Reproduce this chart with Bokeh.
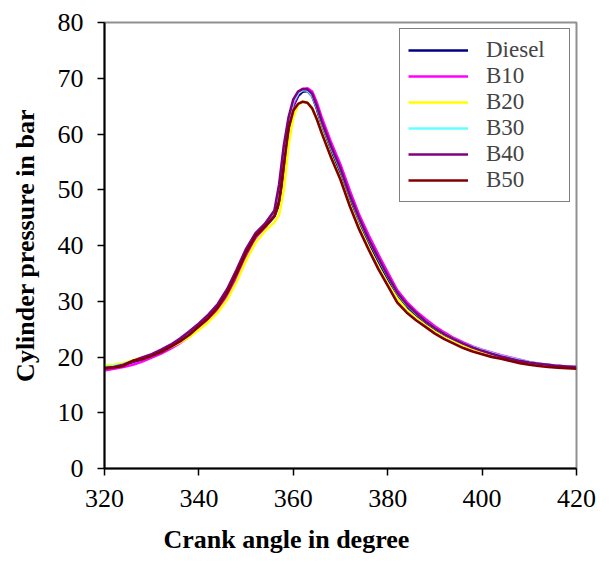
from bokeh.plotting import figure
from bokeh.models import Legend, LegendItem, FixedTicker, Title, Range1d
from bokeh.embed import file_html
from bokeh.resources import INLINE

crank_angle = [320, 322, 324, 326, 328, 330, 332, 334, 336, 338, 340, 342, 344, 346, 348,
               350, 352, 354, 356, 357, 358, 359, 360, 361, 362, 363, 364, 365, 366,
               368, 370, 372, 374, 376, 378, 380, 382, 384, 386, 388, 390, 392, 394, 396,
               398, 400, 402, 404, 406, 408, 410, 412, 414, 416, 418, 420]

diesel = [18.0, 18.2, 18.5, 19.1, 19.6, 20.2, 20.9, 21.8, 22.8, 24.0, 25.4, 26.9, 28.7, 31.2, 34.6,
          38.4, 41.5, 43.3, 45.2, 47.5, 53.5, 61.0, 65.0, 66.8, 67.6, 67.7, 66.8, 64.5, 61.5,
          57.0, 53.0, 48.3, 44.0, 40.5, 37.2, 34.0, 31.0, 29.0, 27.4, 26.0, 24.8, 23.7, 22.8, 22.0,
          21.4, 20.9, 20.4, 20.0, 19.6, 19.2, 18.9, 18.7, 18.5, 18.3, 18.2, 18.1]

b10 = [17.6, 17.9, 18.2, 18.6, 19.2, 19.9, 20.6, 21.5, 22.5, 23.7, 25.1, 26.7, 28.6, 31.0, 34.4,
       38.2, 41.4, 43.3, 45.3, 48.0, 54.5, 61.5, 65.3, 67.2, 68.0, 68.2, 67.6, 65.6, 63.0,
       58.5, 54.5, 49.8, 45.4, 41.8, 38.4, 35.2, 32.0, 29.9, 28.2, 26.8, 25.5, 24.4, 23.4, 22.6,
       21.9, 21.3, 20.8, 20.3, 19.9, 19.5, 19.1, 18.8, 18.6, 18.4, 18.3, 18.2]

b20 = [18.5, 18.6, 18.9, 19.4, 19.9, 20.4, 21.0, 21.8, 22.6, 23.6, 24.9, 26.3, 28.0, 30.3, 33.5,
       37.3, 40.5, 42.6, 44.2, 45.5, 50.0, 58.0, 63.0, 65.2, 65.8, 65.6, 64.6, 62.8, 60.5,
       56.0, 52.0, 47.3, 43.2, 39.6, 36.2, 33.2, 30.5, 28.5, 27.0, 25.7, 24.5, 23.5, 22.7, 22.0,
       21.4, 20.9, 20.5, 20.1, 19.7, 19.3, 19.0, 18.7, 18.5, 18.3, 18.2, 18.1]

b30 = [18.2, 18.4, 18.7, 19.3, 19.8, 20.4, 21.1, 22.0, 23.0, 24.3, 25.7, 27.3, 29.2, 31.8, 35.3,
       39.1, 42.0, 43.8, 46.0, 50.0, 57.0, 62.5, 65.8, 67.3, 67.9, 67.8, 66.9, 64.8, 62.0,
       57.6, 53.6, 48.9, 44.6, 41.0, 37.7, 34.5, 31.5, 29.4, 27.8, 26.4, 25.2, 24.1, 23.2, 22.4,
       21.8, 21.2, 20.7, 20.2, 19.8, 19.4, 19.1, 18.8, 18.6, 18.4, 18.3, 18.2]

b40 = [18.0, 18.2, 18.6, 19.3, 19.9, 20.5, 21.3, 22.2, 23.3, 24.6, 26.0, 27.6, 29.5, 32.2, 35.7,
       39.4, 42.2, 43.9, 46.3, 51.0, 58.0, 63.0, 66.2, 67.6, 68.1, 68.0, 67.2, 65.0, 62.3,
       57.8, 53.8, 49.0, 44.8, 41.1, 37.8, 34.6, 31.6, 29.5, 27.9, 26.4, 25.2, 24.1, 23.2, 22.4,
       21.7, 21.1, 20.6, 20.1, 19.7, 19.3, 19.0, 18.8, 18.6, 18.4, 18.3, 18.2]

b50 = [18.0, 18.1, 18.4, 19.3, 19.6, 20.2, 20.9, 21.8, 22.8, 24.0, 25.5, 27.0, 28.9, 31.5, 35.0,
       38.7, 41.7, 43.4, 45.3, 48.0, 54.5, 61.0, 64.2, 65.4, 65.8, 65.6, 64.6, 62.6, 60.2,
       55.8, 51.8, 47.0, 42.8, 39.2, 35.8, 32.8, 29.8, 28.0, 26.6, 25.4, 24.2, 23.2, 22.4, 21.6,
       21.0, 20.5, 20.0, 19.7, 19.3, 18.9, 18.6, 18.4, 18.2, 18.1, 18.0, 17.9]

series_names = ["Diesel", "B10", "B20", "B30", "B40", "B50"]
series_values = [diesel, b10, b20, b30, b40, b50]
series_colors = ["#000080", "#FF00FF", "#FFFF00", "#66FFFF", "#800080", "#800000"]

x_ticks = [320, 340, 360, 380, 400, 420]
y_ticks = [0, 10, 20, 30, 40, 50, 60, 70, 80]

FONT = "Liberation Serif"

p = figure(width=600, height=570, output_backend="svg", toolbar_location=None,
           x_range=Range1d(320, 420), y_range=Range1d(0, 80),
           min_border_left=104, min_border_right=24, min_border_top=22, min_border_bottom=102)
p.background_fill_color = "white"
p.border_fill_color = "white"
p.outline_line_color = "#909090"
p.outline_line_width = 2
p.xgrid.visible = False
p.ygrid.visible = False

renderers = []
for name, vals, col in zip(series_names, series_values, series_colors):
    r = p.line(crank_angle, vals, line_color=col, line_width=2.6)
    renderers.append((name, r))

for ax in (p.xaxis[0], p.yaxis[0]):
    ax.axis_line_color = "black"
    ax.axis_line_width = 2
    ax.major_tick_line_color = "black"
    ax.major_tick_line_width = 1.5
    ax.major_tick_out = 7
    ax.major_tick_in = 0
    ax.minor_tick_line_color = None
    ax.major_label_text_font = FONT
    ax.major_label_text_font_size = "26px"
    ax.major_label_text_color = "black"

p.xaxis.ticker = FixedTicker(ticks=x_ticks)
p.yaxis.ticker = FixedTicker(ticks=y_ticks)
p.xaxis.major_label_standoff = 14
p.yaxis.major_label_standoff = 14

p.yaxis.axis_label = "Cylinder pressure in bar"
p.yaxis.axis_label_text_font = FONT
p.yaxis.axis_label_text_font_size = "26px"
p.yaxis.axis_label_text_font_style = "bold"
p.yaxis.axis_label_text_color = "black"
p.yaxis.axis_label_standoff = 15

xtitle = Title(text="Crank angle in degree", align="left", offset=59, standoff=26,
               text_font=FONT, text_font_size="26px", text_font_style="bold",
               text_color="black")
p.add_layout(xtitle, "below")

legend = Legend(items=[LegendItem(label=n, renderers=[r]) for n, r in renderers],
                location="top_right", margin=6, padding=8, spacing=0,
                label_height=26, glyph_height=26, glyph_width=60, label_width=75,
                label_standoff=18, label_text_font=FONT, label_text_font_size="23px",
                border_line_color="black", border_line_width=1,
                background_fill_color="white", background_fill_alpha=1.0)
p.add_layout(legend)

open("out.html", "w").write(file_html(p, INLINE))
